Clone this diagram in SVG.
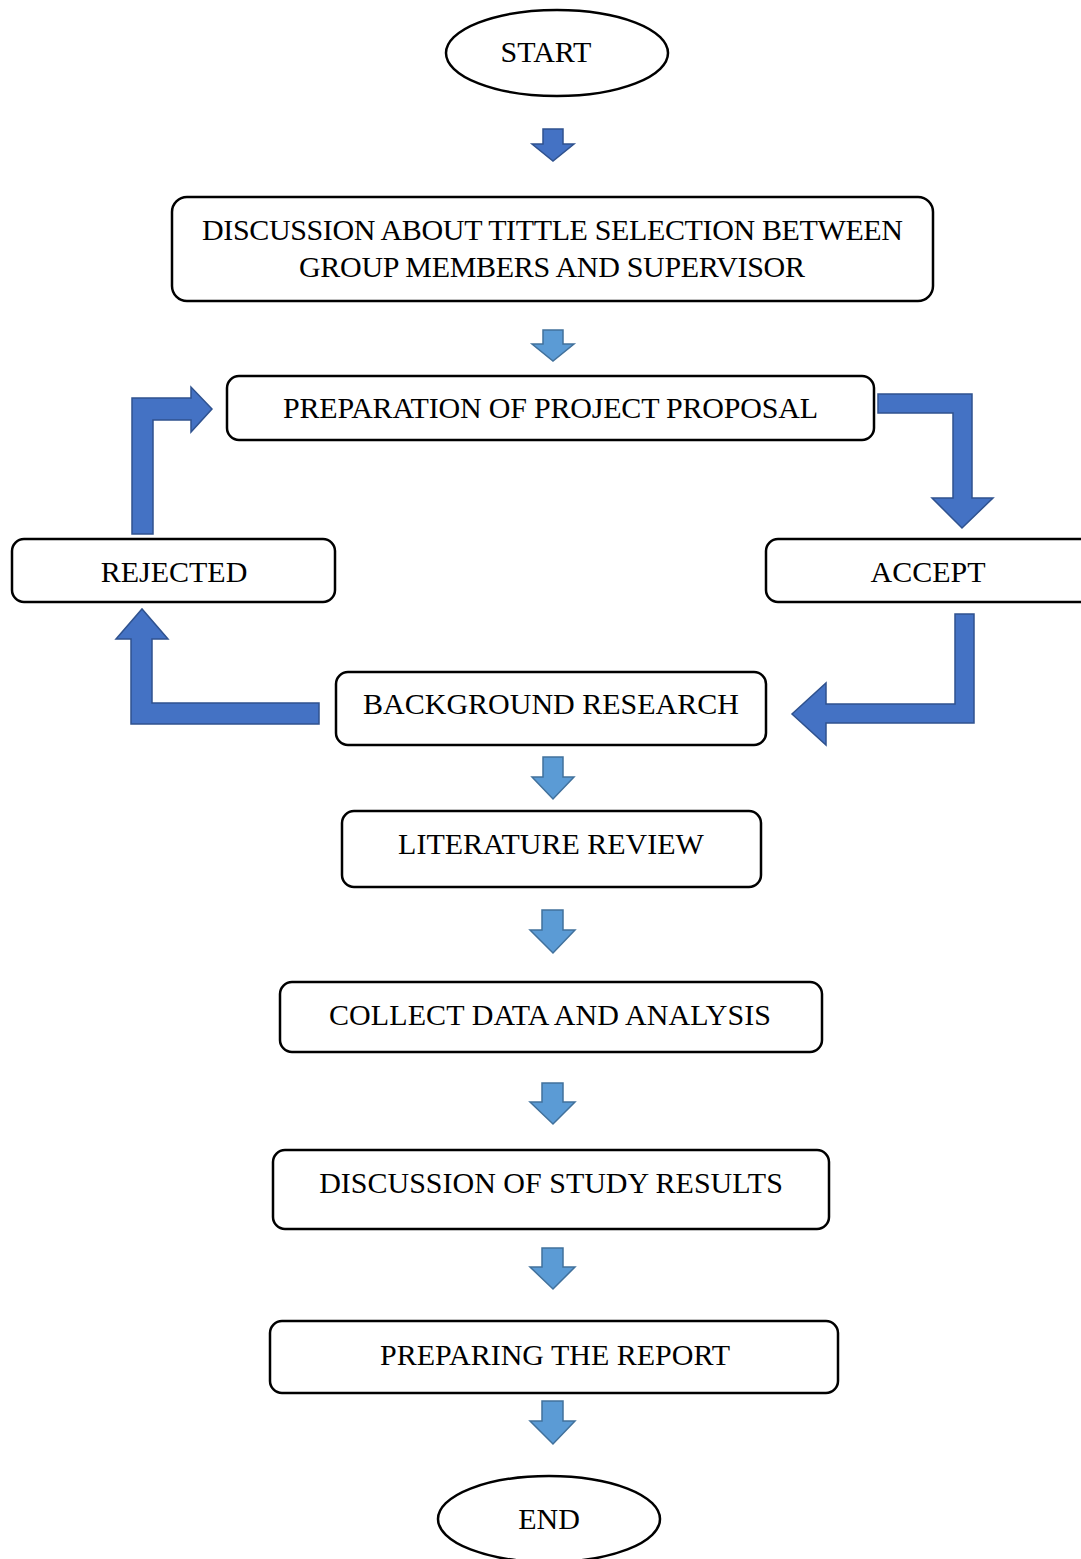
<svg xmlns="http://www.w3.org/2000/svg" width="1081" height="1559" viewBox="0 0 1081 1559">
<style>
.box{fill:#fff;stroke:#000;stroke-width:2.5}
.t{font-family:"Liberation Serif","Times New Roman",serif;font-size:30px;fill:#000;text-anchor:middle;dominant-baseline:central}
.dk{fill:#4472C4;stroke:#2F528F;stroke-width:1.5}
.lt{fill:#5B9BD5;stroke:#41719C;stroke-width:1.5}
</style>
<rect width="1081" height="1559" fill="#fff"/>
<g id="connectors">
<path class="dk" d="M543 129H563V144H574L553 161L532 144H543Z"/>
<path class="lt" d="M543 330H563V344H574L553 361L532 344H543Z"/>
<path class="dk" d="M132 534V398H191V387L212 409L191 432V420H153V534Z"/>
<path class="dk" d="M878 394H972V498H993L962 528L932 498H953V413H878Z"/>
<path class="dk" d="M319 703H152V639H168L142 609L116 639H131V724H319Z"/>
<path class="dk" d="M955 614H974V723H826V745L792 714L826 683V704H955Z"/>
<path class="lt" d="M543 757H563V777H574L553 799L532 777H543Z"/>
<path class="lt" d="M542 910H563V930H575L553 953L530 930H542Z"/>
<path class="lt" d="M542 1083H563V1102H575L553 1124L530 1102H542Z"/>
<path class="lt" d="M542 1248H563V1267H575L553 1289L530 1267H542Z"/>
<path class="lt" d="M542 1401H563V1421H575L553 1444L530 1421H542Z"/>
</g>
<g id="start"><ellipse class="box" cx="557" cy="53" rx="111" ry="43"/><text class="t" x="546" y="51">START</text></g>
<g id="discussion"><rect class="box" x="172" y="197" width="761" height="104" rx="15"/><text class="t" x="552.5" y="229" textLength="701" lengthAdjust="spacing">DISCUSSION ABOUT TITTLE SELECTION BETWEEN</text><text class="t" x="552" y="266" textLength="506" lengthAdjust="spacing">GROUP MEMBERS AND SUPERVISOR</text></g>
<g id="proposal"><rect class="box" x="227" y="376" width="647" height="64" rx="12"/><text class="t" x="550.5" y="407" textLength="535" lengthAdjust="spacing">PREPARATION OF PROJECT PROPOSAL</text></g>
<g id="rejected"><rect class="box" x="12" y="539" width="323" height="63" rx="12"/><text class="t" x="174" y="571">REJECTED</text></g>
<g id="accept"><rect class="box" x="766" y="539" width="330" height="63" rx="12"/><text class="t" x="928" y="571">ACCEPT</text></g>
<g id="background"><rect class="box" x="336" y="672" width="430" height="73" rx="12"/><text class="t" x="551" y="703">BACKGROUND RESEARCH</text></g>
<g id="literature"><rect class="box" x="342" y="811" width="419" height="76" rx="12"/><text class="t" x="551" y="843">LITERATURE REVIEW</text></g>
<g id="collect"><rect class="box" x="280" y="982" width="542" height="70" rx="12"/><text class="t" x="550" y="1014" textLength="442" lengthAdjust="spacing">COLLECT DATA AND ANALYSIS</text></g>
<g id="results"><rect class="box" x="273" y="1150" width="556" height="79" rx="12"/><text class="t" x="551" y="1182">DISCUSSION OF STUDY RESULTS</text></g>
<g id="report"><rect class="box" x="270" y="1321" width="568" height="72" rx="12"/><text class="t" x="555" y="1354">PREPARING THE REPORT</text></g>
<g id="end"><ellipse class="box" cx="549" cy="1519" rx="111" ry="43"/><text class="t" x="549" y="1518">END</text></g>
</svg>
